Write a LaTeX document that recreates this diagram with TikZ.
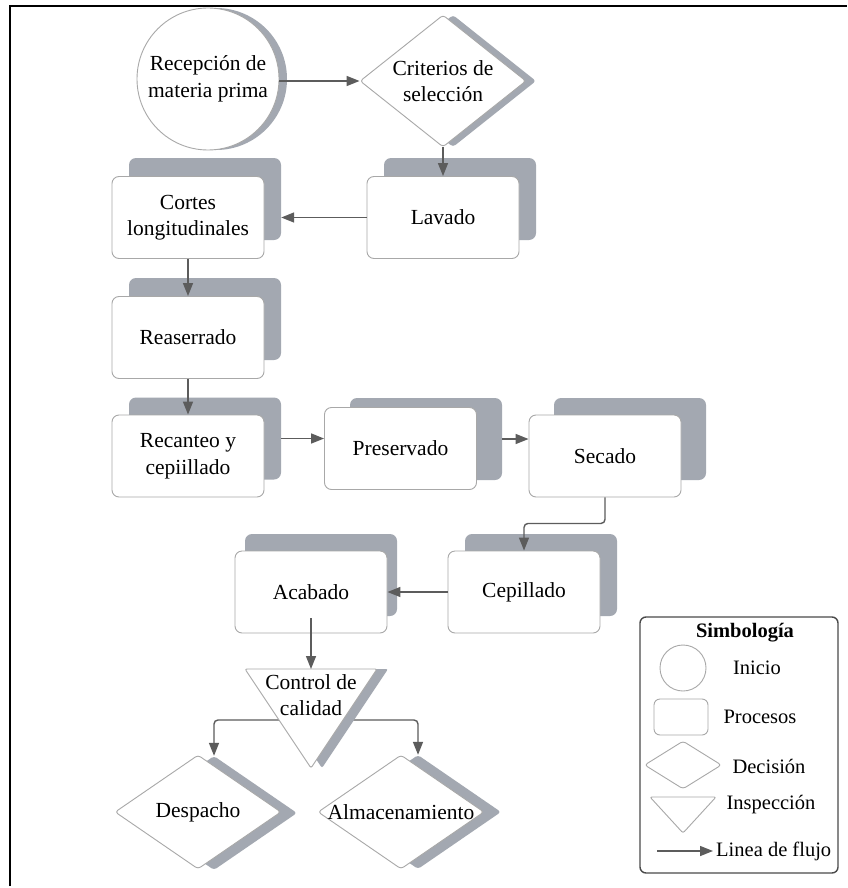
\documentclass[tikz,border=0pt]{standalone}
\usepackage{fontspec}
\setmainfont{Liberation Serif}
\usetikzlibrary{shapes.geometric,arrows.meta}
\definecolor{shadowc}{HTML}{A3A8B1}
\definecolor{boxline}{HTML}{A8A8A8}
\definecolor{arrowc}{HTML}{5C5C5C}
\definecolor{legc}{HTML}{4A4A4A}
\newcommand{\myfs}{\fontsize{21.5}{26.5}\selectfont}
\newcommand{\legfs}{\fontsize{20.5}{25}\selectfont}
\tikzset{
 base/.style={inner sep=0pt, font=\myfs, align=center, text=black},
 boxw/.style={base, rectangle, rounded corners=7pt, draw=boxline, line width=0.9pt, fill=white, minimum width=152pt, minimum height=82pt},
 boxs/.style={rectangle, rounded corners=7pt, fill=shadowc, minimum width=152pt, minimum height=82pt, inner sep=0pt},
 diaw/.style={diamond, draw=boxline, line width=0.9pt, fill=white, inner sep=0pt, rounded corners=3pt},
 dias/.style={diamond, fill=shadowc, inner sep=0pt, rounded corners=3pt},
 flow/.style={draw=arrowc, line width=1.4pt, -{Triangle[length=13pt,width=10pt]}},
 txt/.style={base},
 legtxt/.style={base, font=\legfs},
 leg/.style={draw=boxline, line width=0.9pt, fill=none, inner sep=0pt}
}
\begin{document}
\begin{tikzpicture}[x=1pt,y=-1pt]
\useasboundingbox (0,0) rectangle (847,888);
\fill[white] (0,0) rectangle (847,888);
\draw[line width=2pt, black] (10,886) -- (10,6) -- (847,6);

% start
\node[circle, fill=shadowc, minimum size=142pt, inner sep=0pt] (recsh) at (216,79) {};
\node[base, circle, draw=boxline, line width=0.9pt, fill=white, minimum size=142pt] (rec) at (208,79) {Recepción de\\materia prima};

% decision
\node[dias, minimum width=166pt, minimum height=132pt] (critsh) at (453,81) {};
\node[diaw, minimum width=166pt, minimum height=132pt] (crit) at (443,81) {};
\node[txt] (crittxt) at (crit.center) {Criterios de\\selección};

% processes
\node[boxs] (lavadosh) at (460,199) {};
\node[boxw] (lavado) at (443,217.5) {Lavado};
\node[boxs] (cortessh) at (205,199) {};
\node[boxw] (cortes) at (188,217.5) {Cortes\\longitudinales};
\node[boxs] (reassh) at (205,319) {};
\node[boxw] (reas) at (188,337.5) {Reaserrado};
\node[boxs] (recansh) at (205,438.5) {};
\node[boxw] (recan) at (188,456) {Recanteo y\\cepiillado};
\node[boxs] (pressh) at (426,439) {};
\node[boxw] (pres) at (400.5,448.5) {Preservado};
\node[boxs] (secsh) at (630,439) {};
\node[boxw] (sec) at (605,456) {Secado};
\node[boxs] (cepsh) at (541,575) {};
\node[boxw] (cep) at (524,592) {Cepillado};
\node[boxs] (acabsh) at (321,575) {};
\node[boxw] (acab) at (311,592) {Acabado};

% final diamonds
\node[dias, minimum width=166pt, minimum height=114pt] (despsh) at (214,813) {};
\node[diaw, minimum width=166pt, minimum height=114pt] (desp) at (198,812) {};
\node[txt] (desptxt) at (desp.center) {Despacho};
\node[dias, minimum width=166pt, minimum height=114pt] (almsh) at (418,812) {};
\node[diaw, minimum width=166pt, minimum height=114pt] (alm) at (401,812) {};
\node[txt] (almtxt) at (alm.center) {Almacenamiento};

% inspection
\coordinate (ctrltop) at (311,669);
\coordinate (ctrlmid) at (311,720);
\draw[flow, rounded corners=4pt] (ctrlmid) -| (despsh.north);
\draw[flow, rounded corners=4pt] (ctrlmid) -| (almsh.north);
\fill[shadowc, rounded corners=2pt] (256,669) -- (388,669) -- (322,768) -- cycle;
\draw[boxline, fill=white, line width=0.9pt, rounded corners=2pt] (245,669) -- (377,669) -- (311,768) -- cycle;
\node[txt] (ctrl) at (311,695) {Control de\\calidad};

% connectors
\draw[flow] (rec.east |- crit.west) -- (crit.west);
\draw[flow] (crit.south) -- (lavado.north);
\draw[flow] (lavado.west) -- (lavado.west -| cortessh.east);
\draw[flow] (cortes.south) -- (reas.north);
\draw[flow] (reas.south) -- (recan.north);
\draw[flow] (recansh.east) -- (recansh.east -| pres.west);
\draw[flow] (pressh.east) -- (pressh.east -| sec.west);
\draw[flow, rounded corners=4pt] (sec.south) -- ++(0,26) -| (cep.north);
\draw[flow] (cep.west) -- (acab.east);
\draw[flow] ([yshift=15pt]acab.south) -- (ctrltop);

% legend
\node[draw=legc, line width=1.4pt, rounded corners=6pt, minimum width=198pt, minimum height=256pt, inner sep=0pt] (legend) at (739,745) {};
\node[legtxt, font=\legfs\bfseries] (legtitle) at (745,633) {Simbología};
\node[leg, circle, minimum size=46pt] (legcirc) at (683,668) {};
\node[legtxt] (legt1) at (757,668) {Inicio};
\node[leg, rectangle, rounded corners=6pt, minimum width=54pt, minimum height=36pt] (legrect) at (681,717) {};
\node[legtxt] (legt2) at (760,717) {Procesos};
\node[leg, diamond, minimum width=77pt, minimum height=48pt, rounded corners=3pt] (legdia) at (683,765) {};
\node[legtxt] (legt3) at (769,766) {Decisión};
\draw[boxline, line width=0.9pt, rounded corners=2pt] (650,797) -- (716,797) -- (683,833) -- cycle;
\node[legtxt] (legt4) at (771,805) {Inspección};
\coordinate (lega) at (657,851);
\coordinate (legb) at (713,851);
\draw[flow] (lega) -- (legb);
\node[legtxt, anchor=west] (legt5) at (716,851) {Linea de flujo};
\end{tikzpicture}
\end{document}
